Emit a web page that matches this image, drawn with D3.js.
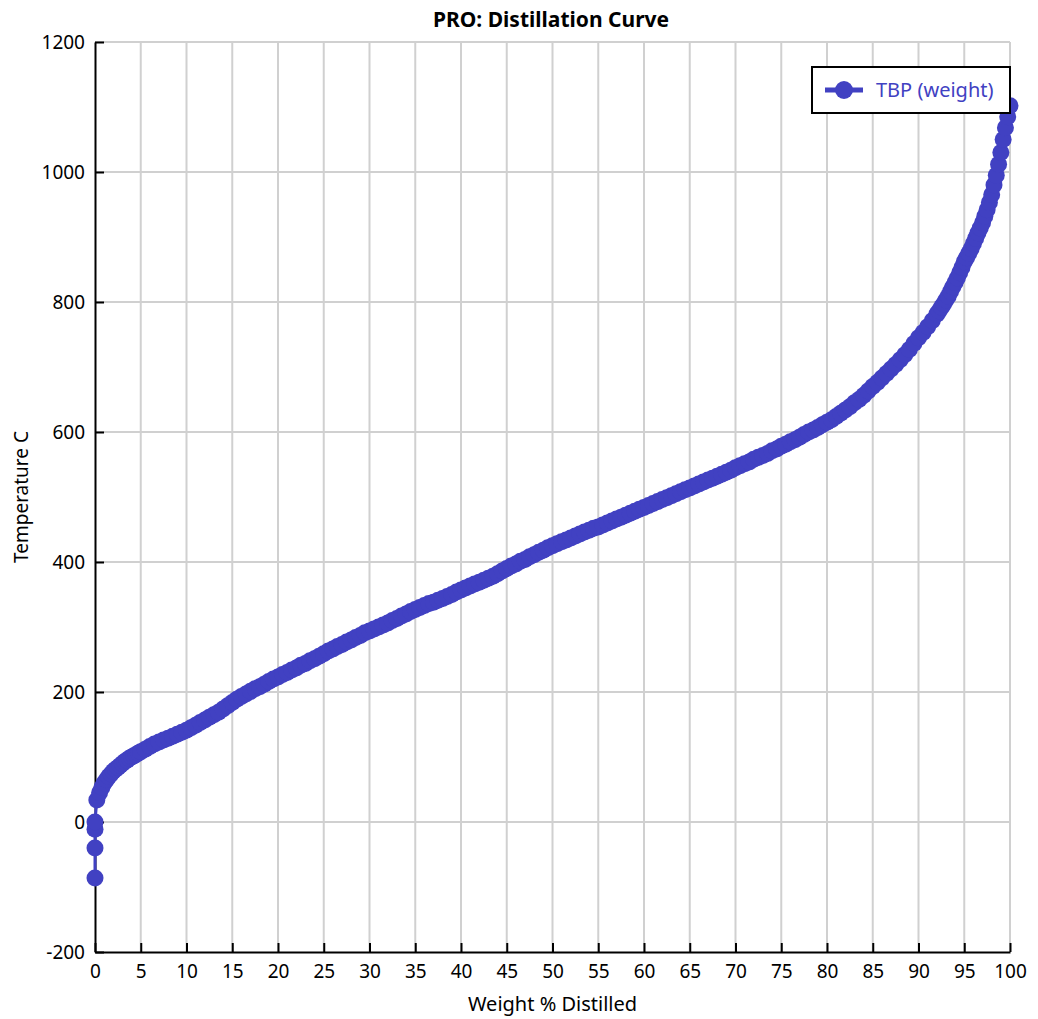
<!DOCTYPE html>
<html>
<head>
<meta charset="utf-8">
<script src="https://cdn.jsdelivr.net/npm/d3@7"></script>
<style>
  body { margin: 0; background: #fff; }
  text { font-family: "Noto Sans", "Open Sans", sans-serif; }
</style>
</head>
<body>
<div id="chart"></div>
<script>
// TBP distillation curve
const weightPct = [0, 0, 0, 0, 0.2, 0.5, 0.75, 1, 1.25, 1.5, 1.75, 2, 2.25, 2.5, 2.75,
  3, 3.25, 3.5, 3.75, 4, 4.25, 4.5, 4.75, 5, 5.5, 6, 6.5, 7, 7.5, 8, 8.5, 9, 9.5,
  10, 10.5, 11, 11.5, 12, 12.5, 13, 13.5, 14, 14.5, 15, 15.5, 16, 16.5, 17, 17.5, 18, 18.5, 19, 19.5,
  20, 20.5, 21, 21.5, 22, 22.5, 23, 23.5, 24, 24.5, 25, 25.5, 26, 26.5, 27, 27.5, 28, 28.5, 29, 29.5,
  30, 30.5, 31, 31.5, 32, 32.5, 33, 33.5, 34, 34.5, 35, 35.5, 36, 36.5, 37, 37.5, 38, 38.5, 39, 39.5,
  40, 40.5, 41, 41.5, 42, 42.5, 43, 43.5, 44, 44.5, 45, 45.5, 46, 46.5, 47, 47.5, 48, 48.5, 49, 49.5,
  50, 50.5, 51, 51.5, 52, 52.5, 53, 53.5, 54, 54.5, 55, 55.5, 56, 56.5, 57, 57.5, 58, 58.5, 59, 59.5,
  60, 60.5, 61, 61.5, 62, 62.5, 63, 63.5, 64, 64.5, 65, 65.5, 66, 66.5, 67, 67.5, 68, 68.5, 69, 69.5,
  70, 70.5, 71, 71.5, 72, 72.5, 73, 73.5, 74, 74.5, 75, 75.5, 76, 76.5, 77, 77.5, 78, 78.5, 79, 79.5,
  80, 80.5, 81, 81.5, 82, 82.5, 83, 83.5, 84, 84.5, 85, 85.5, 86, 86.5, 87, 87.5, 88, 88.5, 89, 89.5,
  90, 90.5, 91, 91.5, 92, 92.25, 92.5, 92.75, 93, 93.25, 93.5, 93.75, 94, 94.25, 94.5, 94.75,
  95, 95.25, 95.5, 95.75, 96, 96.25, 96.5, 96.75,
  97, 97.25, 97.5, 97.75, 98, 98.25, 98.5, 98.75, 99, 99.25, 99.5, 99.75, 100];
const tempC = [-86, -40, -11, 0, 34, 45, 53, 60, 65, 70, 74, 78, 81, 84, 87,
  90, 93, 95, 98, 100, 102, 104, 106, 108, 112, 116, 120, 123, 126, 129, 132, 135, 138,
  141, 145, 149, 153, 157, 161, 165, 169, 174, 179, 184, 189, 193, 197, 201, 205, 208, 212, 216, 220,
  223, 227, 230, 234, 237, 241, 244, 248, 251, 255, 259, 263, 266, 270, 273, 277, 280, 284, 287, 291,
  294, 297, 300, 303, 306, 310, 313, 317, 320, 324, 327, 330, 333, 336, 338, 341, 344, 347, 350, 354,
  357, 360, 363, 366, 369, 372, 375, 378, 382, 386, 390, 394, 397, 401, 404, 408, 411, 415, 418, 422,
  425, 428, 431, 434, 437, 440, 443, 446, 449, 452, 454, 457, 460, 463, 466, 469, 472, 475, 478, 481,
  484, 487, 490, 493, 496, 499, 502, 505, 508, 511, 514, 517, 520, 523, 526, 529, 532, 535, 538, 541,
  545, 548, 551, 554, 558, 561, 564, 567, 571, 574, 578, 581, 585, 588, 592, 596, 600, 603, 607, 611,
  615, 619, 624, 629, 634, 639, 645, 650, 656, 663, 670, 676, 683, 690, 697, 704, 711, 719, 727, 736,
  745, 753, 762, 771, 781, 786, 792, 797, 803, 809, 816, 823, 830, 837, 845, 853,
  862, 868, 875, 882, 890, 898, 906, 914,
  922, 932, 942, 953, 965, 980, 995, 1012, 1030, 1050, 1068, 1085, 1102];
const xTicks = d3.range(0, 101, 5);
const yTicks = [-200, 0, 200, 400, 600, 800, 1000, 1200];
const seriesName = "TBP (weight)";

const width = 1038, height = 1019;
const margin = { top: 42, right: 28, bottom: 67, left: 95 };
const color = "#4141c2";

const data = weightPct.map((w, i) => [w, tempC[i]]);

const svg = d3.select("#chart").append("svg")
  .attr("width", width).attr("height", height);

const x = d3.scaleLinear().domain([0, 100]).range([margin.left, width - margin.right]);
const y = d3.scaleLinear().domain([-200, 1200]).range([height - margin.bottom, margin.top]);

// grid
svg.append("g").selectAll("line").data(xTicks.slice(1)).enter().append("line")
  .attr("x1", d => x(d)).attr("x2", d => x(d))
  .attr("y1", y(-200)).attr("y2", y(1200))
  .attr("stroke", "#d0d0d0").attr("stroke-width", 2);
svg.append("g").selectAll("line").data(yTicks.slice(1)).enter().append("line")
  .attr("x1", x(0)).attr("x2", x(100))
  .attr("y1", d => y(d)).attr("y2", d => y(d))
  .attr("stroke", "#d0d0d0").attr("stroke-width", 2);

// axes (plain hyphen for negatives, like the original)
const plain = d => String(d);
const xAxis = svg.append("g")
  .attr("transform", "translate(0," + y(-200) + ")")
  .call(d3.axisBottom(x).tickValues(xTicks).tickFormat(plain)
    .tickSize(-9).tickPadding(13).tickSizeOuter(0));
const yAxis = svg.append("g")
  .attr("transform", "translate(" + x(0) + ",0)")
  .call(d3.axisLeft(y).tickValues(yTicks).tickFormat(plain)
    .tickSize(-9).tickPadding(10).tickSizeOuter(0));
[xAxis, yAxis].forEach(a => {
  a.select(".domain").attr("stroke", "#000").attr("stroke-width", 2);
  a.selectAll(".tick line").attr("stroke", "#000").attr("stroke-width", 2);
  a.selectAll(".tick text").attr("fill", "#000")
    .style("font-size", "19px").style("font-family", '"Noto Sans", sans-serif');
});

// series
svg.append("path").datum(data)
  .attr("fill", "none").attr("stroke", color).attr("stroke-width", 3)
  .attr("d", d3.line().x(d => x(d[0])).y(d => y(d[1])));
svg.append("g").selectAll("circle").data(data).enter().append("circle")
  .attr("cx", d => x(d[0])).attr("cy", d => y(d[1]))
  .attr("r", 8.5).attr("fill", color);

// titles
svg.append("text").attr("x", 551).attr("y", 27)
  .attr("text-anchor", "middle").style("font-size", "21px").style("font-weight", "bold")
  .text("PRO: Distillation Curve");
svg.append("text").attr("x", (x(0) + x(100)) / 2).attr("y", 1011)
  .attr("text-anchor", "middle").style("font-size", "20px")
  .text("Weight % Distilled");
svg.append("text")
  .attr("transform", "translate(28," + ((y(-200) + y(1200)) / 2) + ") rotate(-90)")
  .attr("text-anchor", "middle").style("font-size", "19px")
  .text("Temperature C");

// legend
const lg = svg.append("g").attr("transform", "translate(812,67)");
lg.append("rect").attr("width", 198).attr("height", 46)
  .attr("fill", "#fff").attr("stroke", "#000").attr("stroke-width", 2);
lg.append("line").attr("x1", 13).attr("x2", 51).attr("y1", 23).attr("y2", 23)
  .attr("stroke", color).attr("stroke-width", 5);
lg.append("circle").attr("cx", 32).attr("cy", 23).attr("r", 9).attr("fill", color);
lg.append("text").attr("x", 64).attr("y", 30).attr("fill", color)
  .style("font-size", "20px").text(seriesName);
</script>
</body>
</html>
